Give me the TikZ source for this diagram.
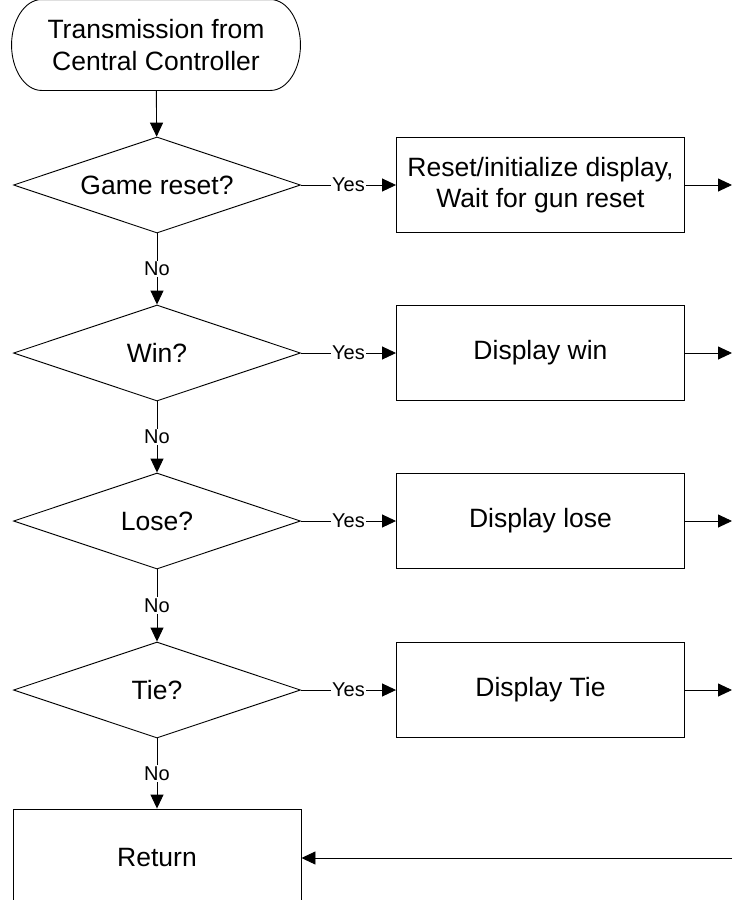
\documentclass[tikz,border=0pt]{standalone}
\usepackage{fontspec}
\setmainfont{Liberation Sans}
\usetikzlibrary{shapes.geometric,arrows.meta}
\tikzset{
  terminal/.style={rectangle, minimum width=288pt, minimum height=90pt,
    align=center, font=\fontsize{26.5}{32}\selectfont},
  decision/.style={draw, diamond, aspect=3, inner sep=0pt, minimum width=287pt,
    minimum height=96pt, font=\fontsize{26.5}{31}\selectfont},
  process/.style={draw, rectangle, minimum width=288pt, minimum height=95pt,
    align=center, font=\fontsize{26.5}{31}\selectfont},
  answer/.style={fill=white, inner sep=1.5pt, font=\fontsize{20}{24}\selectfont},
  flow/.style={-{Triangle[length=14pt,width=13pt]}}
}
\begin{document}
\begin{tikzpicture}[x=1pt, y=-1pt, line width=0.9pt]
    \useasboundingbox (0,0) rectangle (732,900);
    \node [terminal] (start) at (156,45) {Transmission from\\Central Controller};
    \draw ([xshift=30pt]start.north west) -- ([xshift=-30pt]start.north east)
      .. controls ([xshift=-13.4pt]start.north east) and ([yshift=24.8pt]start.east) .. (start.east)
      .. controls ([yshift=-24.8pt]start.east) and ([xshift=-13.4pt]start.south east) .. ([xshift=-30pt]start.south east)
      -- ([xshift=30pt]start.south west)
      .. controls ([xshift=13.4pt]start.south west) and ([yshift=-24.8pt]start.west) .. (start.west)
      .. controls ([yshift=24.8pt]start.west) and ([xshift=13.4pt]start.north west) .. cycle;
    \node [decision] (reset) at (157,185) {Game reset?};
    \node [decision] (win) at (157,353) {Win?};
    \node [decision] (lose) at (157,521) {Lose?};
    \node [decision] (tie) at (157,690) {Tie?};
    \node [process] (resetbox) at (540.5,185) {Reset/initialize display,\\Wait for gun reset};
    \node [process] (winbox) at (540.5,353) {Display win};
    \node [process] (losebox) at (540.5,521) {Display lose};
    \node [process] (tiebox) at (540.5,690) {Display Tie};
    \node [process, minimum height=98pt] (return) at (157,858) {Return};
    \coordinate (resetout) at (732,185);
    \coordinate (winout) at (732,353);
    \coordinate (loseout) at (732,521);
    \coordinate (tieout) at (732,690);
    \coordinate (returnin) at (732,858);
    \draw [flow] (start) -- (reset);
    \draw [flow] (reset) -- node [answer] {No} (win);
    \draw [flow] (win) -- node [answer] {No} (lose);
    \draw [flow] (lose) -- node [answer] {No} (tie);
    \draw [flow] (tie) -- node [answer] {No} (return);
    \draw [flow] (reset) -- node [answer] {Yes} (resetbox);
    \draw [flow] (win) -- node [answer] {Yes} (winbox);
    \draw [flow] (lose) -- node [answer] {Yes} (losebox);
    \draw [flow] (tie) -- node [answer] {Yes} (tiebox);
    \draw [flow] (resetbox) -- (resetout);
    \draw [flow] (winbox) -- (winout);
    \draw [flow] (losebox) -- (loseout);
    \draw [flow] (tiebox) -- (tieout);
    \draw [flow] (returnin) -- (return);
  \end{tikzpicture}
\end{document}
